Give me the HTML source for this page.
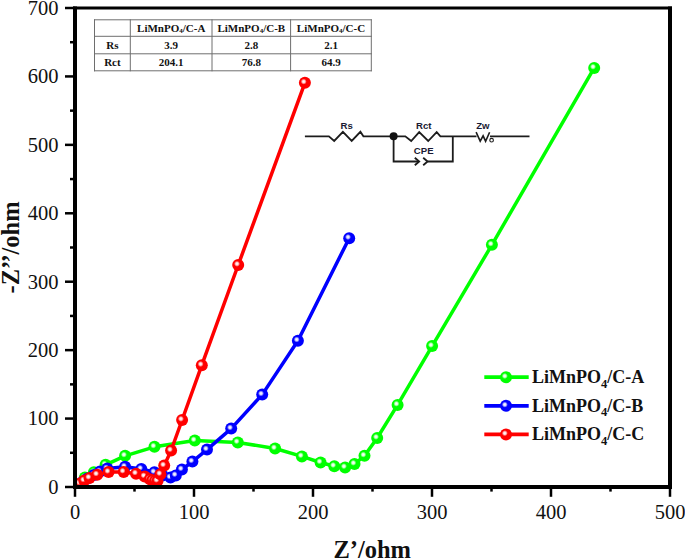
<!DOCTYPE html>
<html><head><meta charset="utf-8"><title>EIS</title>
<style>
html,body{margin:0;padding:0;background:#fff;}
body{width:685px;height:559px;overflow:hidden;position:relative;}
svg{position:absolute;left:0;top:0;display:block;}
.ser{font-family:"Liberation Serif",serif;}
.sans{font-family:"Liberation Sans",sans-serif;}
</style></head><body>
<svg width="685" height="559" viewBox="0 0 685 559">
<defs>
<radialGradient id="gG" cx="0.4" cy="0.4" r="0.5"><stop offset="0" stop-color="#ffffff"/><stop offset="0.22" stop-color="#d8ffd8"/><stop offset="0.5" stop-color="#00ff00"/><stop offset="1" stop-color="#00ff00"/></radialGradient>
<radialGradient id="gB" cx="0.4" cy="0.4" r="0.5"><stop offset="0" stop-color="#ffffff"/><stop offset="0.22" stop-color="#d8d8ff"/><stop offset="0.5" stop-color="#0000ff"/><stop offset="1" stop-color="#0000ff"/></radialGradient>
<radialGradient id="gR" cx="0.4" cy="0.4" r="0.5"><stop offset="0" stop-color="#ffffff"/><stop offset="0.22" stop-color="#ffd8d8"/><stop offset="0.5" stop-color="#ff0000"/><stop offset="1" stop-color="#ff0000"/></radialGradient>
<clipPath id="pc"><rect x="75" y="8" width="595" height="479"/></clipPath>
</defs>
<rect width="685" height="559" fill="#fff"/>
<g stroke="#6e6e6e" stroke-width="1" fill="none"><line x1="94.5" y1="19.3" x2="94.5" y2="71.3"/><line x1="130.3" y1="19.3" x2="130.3" y2="71.3"/><line x1="212.0" y1="19.3" x2="212.0" y2="71.3"/><line x1="290.6" y1="19.3" x2="290.6" y2="71.3"/><line x1="371.3" y1="19.3" x2="371.3" y2="71.3"/><line x1="94.0" y1="19.8" x2="371.8" y2="19.8"/><line x1="94.0" y1="36.3" x2="371.8" y2="36.3"/><line x1="94.0" y1="53.8" x2="371.8" y2="53.8"/><line x1="94.0" y1="70.8" x2="371.8" y2="70.8"/></g>
<g class="ser" font-weight="bold" font-size="11" fill="#111" text-anchor="middle"><text x="171.2" y="32">LiMnPO<tspan font-size="7" dy="1">4</tspan><tspan dy="-1">/C-A</tspan></text><text x="251.3" y="32">LiMnPO<tspan font-size="7" dy="1">4</tspan><tspan dy="-1">/C-B</tspan></text><text x="331.0" y="32">LiMnPO<tspan font-size="7" dy="1">4</tspan><tspan dy="-1">/C-C</tspan></text><text x="112.4" y="48.5">Rs</text><text x="112.4" y="66">Rct</text><text x="171.2" y="48.5">3.9</text><text x="251.3" y="48.5">2.8</text><text x="331.0" y="48.5">2.1</text><text x="171.2" y="66">204.1</text><text x="251.3" y="66">76.8</text><text x="331.0" y="66">64.9</text></g>
<g stroke="#1c1c1c" stroke-width="1.8" fill="none" stroke-linejoin="miter"><polyline points="304.9,136.3 328.9,136.3 334.2,140.9 342.9,131.8 351.7,140.9 360.4,131.8 363.4,136.3 393.6,136.3"/><polyline points="393.6,136.3 405.3,136.3 411.2,141 419.2,132.1 428.2,141 436.7,132.1 440.4,136.3 452.8,136.3 476.5,136.3"/><polyline points="393.6,136.3 393.6,161.5 419,161.5"/><polyline points="414.8,157.7 419.2,161.5 414.8,165.3"/><polyline points="423.2,157.7 427.6,161.5 423.2,165.3"/><polyline points="427.6,161.5 452.8,161.5 452.8,136.3"/><polyline stroke-width="1.6" points="476.1,132.2 480.2,141.2 483.1,135.8 485.6,141.2 489.6,132.2"/><line x1="490" y1="136.3" x2="529.5" y2="136.3"/><circle cx="491.6" cy="140.2" r="1.8" stroke-width="1.1"/></g>
<circle cx="393.6" cy="136.3" r="4" fill="#111"/>
<g class="sans" font-size="9.6" font-weight="bold" fill="#1a1a33" text-anchor="middle"><text x="346.7" y="128.8">Rs</text><text x="423.8" y="129.1">Rct</text><text x="423.7" y="154.2">CPE</text><text x="482.8" y="129.1">Zw</text></g>
<g clip-path="url(#pc)">
<polyline fill="none" stroke="#00ff00" stroke-width="3.5" stroke-linejoin="round" points="79.8,484.5 84.9,477.4 93.9,472.2 105.6,464.8 125.1,455.8 154.5,446.8 194.8,440.5 237.8,442.4 275.1,448.5 301.9,456.4 320.6,462.5 334.3,466.2 345.1,467.4 354.5,464.0 364.5,455.8 377.2,438.0 397.6,404.9 432.1,346.1 491.9,244.8 594.2,67.9"/>
<circle cx="79.8" cy="484.5" r="6" fill="url(#gG)"/>
<circle cx="84.9" cy="477.4" r="6" fill="url(#gG)"/>
<circle cx="93.9" cy="472.2" r="6" fill="url(#gG)"/>
<circle cx="105.6" cy="464.8" r="6" fill="url(#gG)"/>
<circle cx="125.1" cy="455.8" r="6" fill="url(#gG)"/>
<circle cx="154.5" cy="446.8" r="6" fill="url(#gG)"/>
<circle cx="194.8" cy="440.5" r="6" fill="url(#gG)"/>
<circle cx="237.8" cy="442.4" r="6" fill="url(#gG)"/>
<circle cx="275.1" cy="448.5" r="6" fill="url(#gG)"/>
<circle cx="301.9" cy="456.4" r="6" fill="url(#gG)"/>
<circle cx="320.6" cy="462.5" r="6" fill="url(#gG)"/>
<circle cx="334.3" cy="466.2" r="6" fill="url(#gG)"/>
<circle cx="345.1" cy="467.4" r="6" fill="url(#gG)"/>
<circle cx="354.5" cy="464.0" r="6" fill="url(#gG)"/>
<circle cx="364.5" cy="455.8" r="6" fill="url(#gG)"/>
<circle cx="377.2" cy="438.0" r="6" fill="url(#gG)"/>
<circle cx="397.6" cy="404.9" r="6" fill="url(#gG)"/>
<circle cx="432.1" cy="346.1" r="6" fill="url(#gG)"/>
<circle cx="491.9" cy="244.8" r="6" fill="url(#gG)"/>
<circle cx="594.2" cy="67.9" r="6" fill="url(#gG)"/>
</g>
<g clip-path="url(#pc)">
<polyline fill="none" stroke="#0000ff" stroke-width="3.5" stroke-linejoin="round" points="78.6,485.0 82.5,482.0 87.5,478.5 94.0,475.0 100.0,471.5 107.3,468.6 125.1,466.8 141.3,469.0 154.4,472.3 162.5,475.5 170.5,477.6 175.8,475.4 181.9,469.5 192.4,461.6 207.0,449.6 231.2,428.6 262.2,394.6 297.9,340.7 349.2,238.2"/>
<circle cx="78.6" cy="485.0" r="6" fill="url(#gB)"/>
<circle cx="82.5" cy="482.0" r="6" fill="url(#gB)"/>
<circle cx="87.5" cy="478.5" r="6" fill="url(#gB)"/>
<circle cx="94.0" cy="475.0" r="6" fill="url(#gB)"/>
<circle cx="100.0" cy="471.5" r="6" fill="url(#gB)"/>
<circle cx="107.3" cy="468.6" r="6" fill="url(#gB)"/>
<circle cx="125.1" cy="466.8" r="6" fill="url(#gB)"/>
<circle cx="141.3" cy="469.0" r="6" fill="url(#gB)"/>
<circle cx="154.4" cy="472.3" r="6" fill="url(#gB)"/>
<circle cx="162.5" cy="475.5" r="6" fill="url(#gB)"/>
<circle cx="170.5" cy="477.6" r="6" fill="url(#gB)"/>
<circle cx="175.8" cy="475.4" r="6" fill="url(#gB)"/>
<circle cx="181.9" cy="469.5" r="6" fill="url(#gB)"/>
<circle cx="192.4" cy="461.6" r="6" fill="url(#gB)"/>
<circle cx="207.0" cy="449.6" r="6" fill="url(#gB)"/>
<circle cx="231.2" cy="428.6" r="6" fill="url(#gB)"/>
<circle cx="262.2" cy="394.6" r="6" fill="url(#gB)"/>
<circle cx="297.9" cy="340.7" r="6" fill="url(#gB)"/>
<circle cx="349.2" cy="238.2" r="6" fill="url(#gB)"/>
</g>
<g clip-path="url(#pc)">
<polyline fill="none" stroke="#ff0000" stroke-width="3.5" stroke-linejoin="round" points="78.5,485.2 80.0,483.4 84.3,480.6 89.5,478.0 97.2,474.7 108.6,472.1 123.7,471.9 136.1,473.7 144.7,476.5 149.9,479.3 152.3,480.3 155.0,481.0 157.5,481.0 160.4,474.3 164.2,465.6 171.1,450.5 182.1,420.0 201.8,365.2 238.2,265.0 304.9,82.8"/>
<circle cx="78.5" cy="485.2" r="6" fill="url(#gR)"/>
<circle cx="80.0" cy="483.4" r="6" fill="url(#gR)"/>
<circle cx="84.3" cy="480.6" r="6" fill="url(#gR)"/>
<circle cx="89.5" cy="478.0" r="6" fill="url(#gR)"/>
<circle cx="97.2" cy="474.7" r="6" fill="url(#gR)"/>
<circle cx="108.6" cy="472.1" r="6" fill="url(#gR)"/>
<circle cx="123.7" cy="471.9" r="6" fill="url(#gR)"/>
<circle cx="136.1" cy="473.7" r="6" fill="url(#gR)"/>
<circle cx="144.7" cy="476.5" r="6" fill="url(#gR)"/>
<circle cx="149.9" cy="479.3" r="6" fill="url(#gR)"/>
<circle cx="152.3" cy="480.3" r="6" fill="url(#gR)"/>
<circle cx="155.0" cy="481.0" r="6" fill="url(#gR)"/>
<circle cx="157.5" cy="481.0" r="6" fill="url(#gR)"/>
<circle cx="160.4" cy="474.3" r="6" fill="url(#gR)"/>
<circle cx="164.2" cy="465.6" r="6" fill="url(#gR)"/>
<circle cx="171.1" cy="450.5" r="6" fill="url(#gR)"/>
<circle cx="182.1" cy="420.0" r="6" fill="url(#gR)"/>
<circle cx="201.8" cy="365.2" r="6" fill="url(#gR)"/>
<circle cx="238.2" cy="265.0" r="6" fill="url(#gR)"/>
<circle cx="304.9" cy="82.8" r="6" fill="url(#gR)"/>
</g>
<g stroke="#000" fill="none"><line x1="73" y1="8" x2="672" y2="8" stroke-width="3"/><line x1="75" y1="6.5" x2="75" y2="489" stroke-width="4"/><line x1="670" y1="6.5" x2="670" y2="489" stroke-width="4"/><line x1="73" y1="487" x2="672" y2="487" stroke-width="4"/><line x1="65" y1="487.00" x2="75" y2="487.00" stroke-width="2.5"/><line x1="70" y1="452.79" x2="75" y2="452.79" stroke-width="2.5"/><line x1="65" y1="418.57" x2="75" y2="418.57" stroke-width="2.5"/><line x1="70" y1="384.36" x2="75" y2="384.36" stroke-width="2.5"/><line x1="65" y1="350.14" x2="75" y2="350.14" stroke-width="2.5"/><line x1="70" y1="315.93" x2="75" y2="315.93" stroke-width="2.5"/><line x1="65" y1="281.71" x2="75" y2="281.71" stroke-width="2.5"/><line x1="70" y1="247.50" x2="75" y2="247.50" stroke-width="2.5"/><line x1="65" y1="213.29" x2="75" y2="213.29" stroke-width="2.5"/><line x1="70" y1="179.07" x2="75" y2="179.07" stroke-width="2.5"/><line x1="65" y1="144.86" x2="75" y2="144.86" stroke-width="2.5"/><line x1="70" y1="110.64" x2="75" y2="110.64" stroke-width="2.5"/><line x1="65" y1="76.43" x2="75" y2="76.43" stroke-width="2.5"/><line x1="70" y1="42.21" x2="75" y2="42.21" stroke-width="2.5"/><line x1="65" y1="8.00" x2="75" y2="8.00" stroke-width="2.5"/><line x1="75.00" y1="487" x2="75.00" y2="496.8" stroke-width="2.5"/><line x1="134.50" y1="487" x2="134.50" y2="491.6" stroke-width="2.5"/><line x1="194.00" y1="487" x2="194.00" y2="496.8" stroke-width="2.5"/><line x1="253.50" y1="487" x2="253.50" y2="491.6" stroke-width="2.5"/><line x1="313.00" y1="487" x2="313.00" y2="496.8" stroke-width="2.5"/><line x1="372.50" y1="487" x2="372.50" y2="491.6" stroke-width="2.5"/><line x1="432.00" y1="487" x2="432.00" y2="496.8" stroke-width="2.5"/><line x1="491.50" y1="487" x2="491.50" y2="491.6" stroke-width="2.5"/><line x1="551.00" y1="487" x2="551.00" y2="496.8" stroke-width="2.5"/><line x1="610.50" y1="487" x2="610.50" y2="491.6" stroke-width="2.5"/><line x1="670.00" y1="487" x2="670.00" y2="496.8" stroke-width="2.5"/></g>
<g class="ser" font-size="20.5" fill="#111"><text x="58.5" y="493.80" text-anchor="end">0</text><text x="58.5" y="425.37" text-anchor="end">100</text><text x="58.5" y="356.94" text-anchor="end">200</text><text x="58.5" y="288.51" text-anchor="end">300</text><text x="58.5" y="220.09" text-anchor="end">400</text><text x="58.5" y="151.66" text-anchor="end">500</text><text x="58.5" y="83.23" text-anchor="end">600</text><text x="58.5" y="14.80" text-anchor="end">700</text><text x="75.00" y="518.7" text-anchor="middle">0</text><text x="194.00" y="518.7" text-anchor="middle">100</text><text x="313.00" y="518.7" text-anchor="middle">200</text><text x="432.00" y="518.7" text-anchor="middle">300</text><text x="551.00" y="518.7" text-anchor="middle">400</text><text x="670.00" y="518.7" text-anchor="middle">500</text></g>
<g class="ser" font-size="24.5" font-weight="bold" fill="#111" text-anchor="middle"><text x="372.2" y="557.8">Z&#8217;/ohm</text><text transform="translate(18.8,247.4) rotate(-90)" x="0" y="0">-Z&#8217;&#8217;/ohm</text></g>
<line x1="484.3" y1="377.2" x2="528.7" y2="377.2" stroke="#00ff00" stroke-width="3.8"/><circle cx="506" cy="377.2" r="6" fill="url(#gG)"/><text class="ser" x="532" y="383.2" font-size="18" font-weight="bold" fill="#111">LiMnPO<tspan font-size="12.5" dy="4.5">4</tspan><tspan dy="-4.5">/C-A</tspan></text>
<line x1="484.3" y1="405.8" x2="528.7" y2="405.8" stroke="#0000ff" stroke-width="3.8"/><circle cx="506" cy="405.8" r="6" fill="url(#gB)"/><text class="ser" x="532" y="411.8" font-size="18" font-weight="bold" fill="#111">LiMnPO<tspan font-size="12.5" dy="4.5">4</tspan><tspan dy="-4.5">/C-B</tspan></text>
<line x1="484.3" y1="434.4" x2="528.7" y2="434.4" stroke="#ff0000" stroke-width="3.8"/><circle cx="506" cy="434.4" r="6" fill="url(#gR)"/><text class="ser" x="532" y="440.4" font-size="18" font-weight="bold" fill="#111">LiMnPO<tspan font-size="12.5" dy="4.5">4</tspan><tspan dy="-4.5">/C-C</tspan></text>
</svg>
</body></html>
